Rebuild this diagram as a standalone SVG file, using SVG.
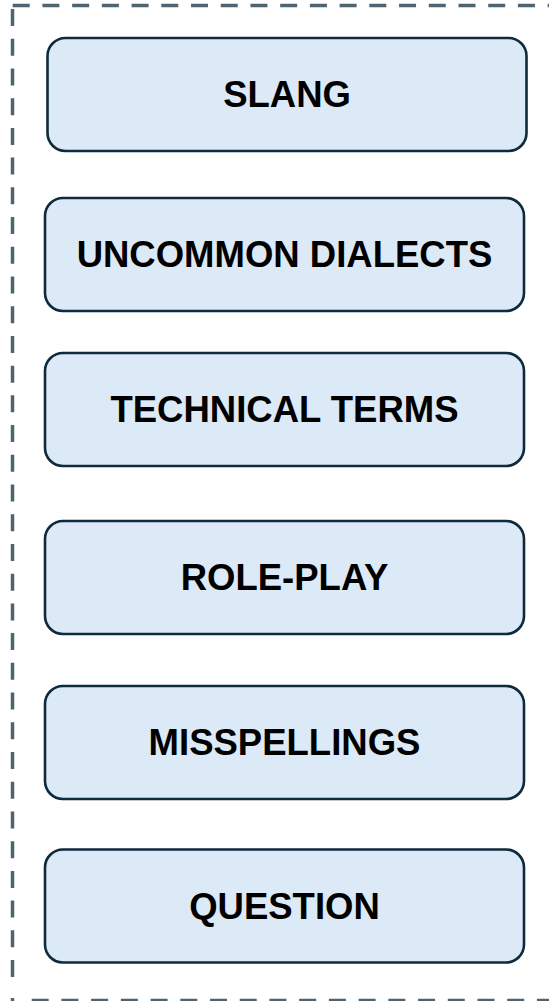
<svg xmlns="http://www.w3.org/2000/svg" width="549" height="1001" viewBox="0 0 549 1001">
<style>
.frame{stroke:#506370;stroke-width:3.5;fill:none;stroke-dasharray:17 12.72}
.box rect{fill:#dce9f6;stroke:#0e2a3c;stroke-width:2.6}
.box text{font-family:"Liberation Sans",Arial,sans-serif;font-weight:bold;font-size:36.5px;fill:#000;text-anchor:middle}
</style>
<rect width="549" height="1001" fill="#ffffff"/>
<g id="frame">
<line class="frame" x1="12.7" y1="5.5" x2="560" y2="5.5"/>
<line class="frame" x1="12.5" y1="9" x2="12.5" y2="978"/>
<line class="frame" x1="12.5" y1="998" x2="12.5" y2="1002" style="stroke-dasharray:none"/>
<line class="frame" x1="31.7" y1="1000.5" x2="560" y2="1000.5"/>
</g>
<g id="connectors"></g>
<g id="slang" class="box"><rect x="47.5" y="38" width="479" height="113" rx="18"/><text x="287" y="107.3">SLANG</text></g>
<g id="uncommon-dialects" class="box"><rect x="45" y="198" width="479" height="113" rx="18"/><text x="284.5" y="267.3">UNCOMMON DIALECTS</text></g>
<g id="technical-terms" class="box"><rect x="45" y="353" width="479" height="113" rx="18"/><text x="284.5" y="422.3">TECHNICAL TERMS</text></g>
<g id="role-play" class="box"><rect x="45" y="521" width="479" height="113" rx="18"/><text x="284.5" y="590.3">ROLE-PLAY</text></g>
<g id="misspellings" class="box"><rect x="45" y="686" width="479" height="113" rx="18"/><text x="284.5" y="755.3">MISSPELLINGS</text></g>
<g id="question" class="box"><rect x="45" y="849.5" width="479" height="113" rx="18"/><text x="284.5" y="918.8">QUESTION</text></g>
</svg>
